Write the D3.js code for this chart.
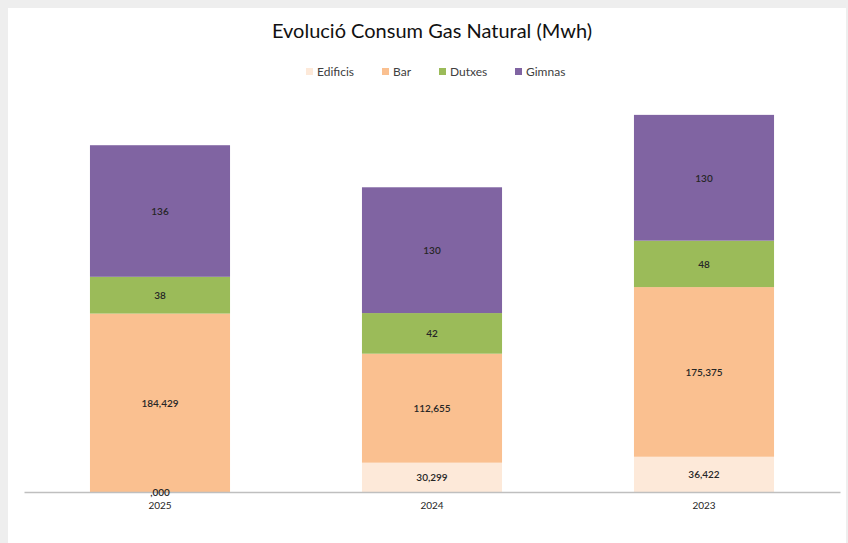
<!DOCTYPE html>
<html>
<head>
<meta charset="utf-8">
<script src="https://cdn.jsdelivr.net/npm/d3@7"></script>
<style>
  body { margin: 0; background: #eeeeee; }
  svg { display: block; }
</style>
</head>
<body>
<div id="chart-area"></div>
<script>
// data (Mwh)
var years = ["2025", "2024", "2023"];
var seriesNames = ["Edificis", "Bar", "Dutxes", "Gimnas"];
var edificis = [0, 30.299, 36.422];
var bar = [184.429, 112.655, 175.375];
var dutxes = [38, 42, 48];
var gimnas = [136, 130, 130];
var decimals = [3, 3, 0, 0];
var colors = ["#fde9d9", "#fac090", "#9bbb59", "#8064a2"];

var W = 848, H = 543;

var svg = d3.select("#chart-area").append("svg")
    .attr("width", W)
    .attr("height", H);

// white panel
svg.append("rect")
    .attr("x", 8).attr("y", 8)
    .attr("width", W - 10).attr("height", H - 8)
    .attr("fill", "#ffffff");

var rows = years.map(function(y, i) {
    return {year: y, Edificis: edificis[i], Bar: bar[i], Dutxes: dutxes[i], Gimnas: gimnas[i]};
});

var stack = d3.stack().keys(seriesNames);
var layers = stack(rows);

var x = d3.scaleBand()
    .domain(years)
    .range([24, 840])
    .paddingInner(0.485)
    .paddingOuter(0.2425);

var y = d3.scaleLinear()
    .domain([0, 400])
    .range([492, 105]);

var fmt = function(v, dec) {
    if (dec === 0) return d3.format(",.0f")(v);
    var s = d3.format(".3f")(v).replace(".", ",");
    return s.replace(/^0/, "");
};

// Title
svg.append("text")
    .attr("x", 432)
    .attr("y", 38)
    .attr("text-anchor", "middle")
    .attr("font-family", "Lato, 'Open Sans', sans-serif")
    .attr("font-size", "20px")
    .attr("fill", "#111111")
    .text("Evolució Consum Gas Natural (Mwh)");

// Legend
var legendX = [306, 382, 439, 515];
var legend = svg.selectAll(".legend")
    .data(seriesNames)
    .enter().append("g")
    .attr("class", "legend")
    .attr("transform", function(d, i) { return "translate(" + legendX[i] + ",72)"; });

legend.append("rect")
    .attr("x", 0).attr("y", -4)
    .attr("width", 7).attr("height", 7)
    .attr("fill", function(d, i) { return colors[i]; });

legend.append("text")
    .attr("x", 11)
    .attr("y", 4)
    .attr("font-family", "Lato, sans-serif")
    .attr("font-size", "12px")
    .attr("fill", "#404040")
    .text(function(d) { return d; });

// Bars
var groups = svg.selectAll(".layer")
    .data(layers)
    .enter().append("g")
    .attr("class", "layer")
    .attr("fill", function(d, i) { return colors[i]; });

groups.selectAll("rect")
    .data(function(d) { return d; })
    .enter().append("rect")
    .attr("x", function(d) { return x(d.data.year); })
    .attr("y", function(d) { return y(d[1]); })
    .attr("height", function(d) { return y(d[0]) - y(d[1]); })
    .attr("width", x.bandwidth());

// X axis
var xAxisCall = d3.axisBottom(x).tickSize(0).tickPadding(10);
var xAxis = svg.append("g")
    .attr("class", "x axis")
    .attr("transform", "translate(0,492)")
    .call(xAxisCall);
xAxis.select(".domain")
    .attr("stroke", "#bfbfbf")
    .attr("stroke-width", 1.5);
xAxis.selectAll("text")
    .attr("font-family", "Lato, sans-serif")
    .attr("font-size", "10px")
    .attr("fill", "#262626");

// Data labels (drawn over the axis line)
var labels = svg.append("g").attr("class", "labels");
layers.forEach(function(layer, li) {
    labels.selectAll(".lbl" + li)
        .data(layer)
        .enter().append("text")
        .attr("class", "lbl" + li)
        .attr("x", function(d) { return x(d.data.year) + x.bandwidth() / 2; })
        .attr("y", function(d) { return (y(d[0]) + y(d[1])) / 2 + 4; })
        .attr("text-anchor", "middle")
        .attr("font-family", "Lato, sans-serif")
        .attr("font-size", "10px")
        .attr("font-weight", "600")
        .attr("fill", "#262626")
        .text(function(d) { return fmt(d[1] - d[0], decimals[li]); });
});
</script>
</body>
</html>
